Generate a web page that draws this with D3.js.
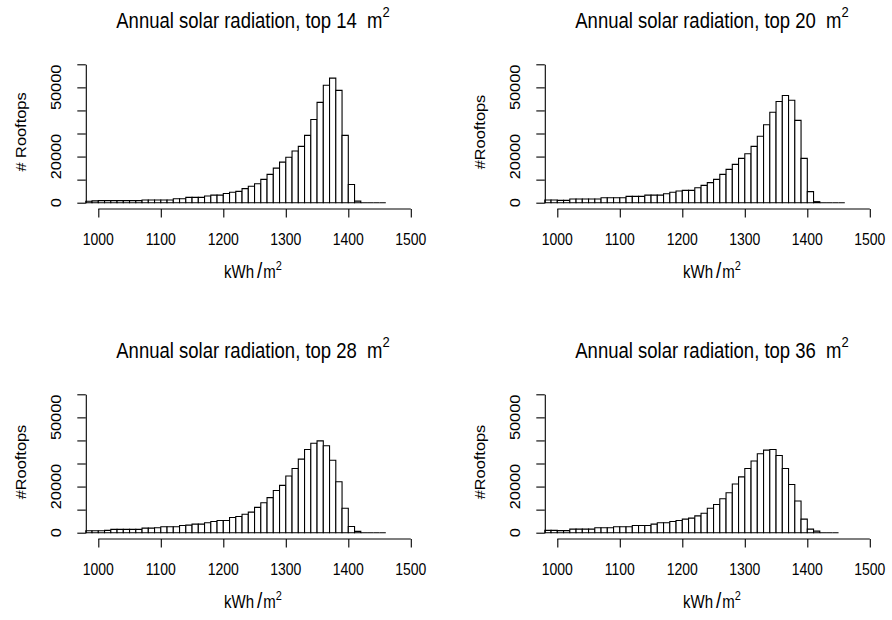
<!DOCTYPE html>
<html>
<head>
<meta charset="utf-8">
<script src="https://cdn.jsdelivr.net/npm/d3@7"></script>
<style>
  body { margin: 0; background: #fff; }
  svg text { font-family: "Liberation Sans", Arial, sans-serif; fill: #000; white-space: pre; }
</style>
</head>
<body>
<div id="chart"></div>
<script>
// histogram bins: 10 kWh/m2 wide, first bin starts at 980
var binStart = 980;
var binWidth = 10;

var top14 = [600, 800, 900, 900, 900, 900, 900, 900, 900, 1150, 1150, 1150, 1150, 1150, 1700, 1700,
  2300, 2300, 2300, 2900, 3300, 3300, 4000, 4500, 4900, 6100, 7100, 8200, 10100, 12300, 15000, 17600,
  19700, 22400, 24400, 29200, 36100, 43500, 50900, 54000, 48700, 29200, 7900, 700, 0, 0, 0, 0];
var top20 = [1150, 1150, 1000, 1000, 1600, 1600, 1600, 1600, 1600, 2150, 2150, 2150, 2150, 2750, 2750, 2750,
  3300, 3300, 3300, 3900, 4500, 5050, 5350, 5350, 6500, 7500, 8700, 10100, 12300, 14450, 16600, 19200,
  21200, 24400, 28800, 33800, 39200, 43900, 46500, 44400, 35700, 19200, 4800, 450, 0, 0, 0, 0];
var top28 = [860, 860, 860, 1000, 1430, 1430, 1430, 1430, 1430, 2000, 2000, 2150, 2580, 2580, 2580, 3150,
  3300, 3700, 3700, 4300, 4870, 5300, 5300, 6600, 7000, 8000, 8900, 11000, 13000, 15200, 18300, 20500,
  24600, 27800, 31900, 36100, 38800, 39800, 37700, 31400, 22100, 10600, 2700, 570, 0, 0, 0, 0];
var top36 = [1000, 1000, 900, 900, 1570, 1570, 1570, 1570, 2150, 2150, 2150, 2580, 2580, 2580, 3150, 3150,
  3150, 3700, 4300, 4300, 4870, 5300, 5870, 6300, 7300, 8450, 10600, 12200, 14750, 17300, 21100, 24200,
  27800, 31100, 34200, 35800, 36100, 33500, 27800, 20900, 13750, 5870, 1570, 700, 0, 0, 0];

var titles = ["Annual solar radiation, top 14  m", "Annual solar radiation, top 20  m",
  "Annual solar radiation, top 28  m", "Annual solar radiation, top 36  m"];
var yTitles = ["# Rooftops", "#Rooftops", "#Rooftops", "#Rooftops"];

var xTicks = [1000, 1100, 1200, 1300, 1400, 1500];
var yTicks = [0, 10000, 20000, 30000, 40000, 50000, 60000];
// R drops labels that would overlap, only these survive
var yTickLabels = ["0", "", "20000", "", "", "50000", ""];

var W = 892, H = 620;
var stretch = 1.17; // picture is a bit taller than wide

var svg = d3.select("#chart").append("svg")
  .attr("width", W)
  .attr("height", H);

function stretched(sel, x, y, rot) {
  return sel.attr("transform", "translate(" + x + "," + y + ") scale(1," + stretch + ")" + (rot ? " rotate(-90)" : ""));
}

function histPanel(g, counts, title, yTitle) {
  var x = d3.scaleLinear().domain([980, 1500]).range([85.8, 410.8]);
  var y = d3.scaleLinear().domain([0, 60000]).range([202.7, 64.3]);
  var cx = 253;

  var bins = counts.map(function (c, i) {
    return { x0: binStart + i * binWidth, x1: binStart + (i + 1) * binWidth, n: c };
  });

  // paths instead of rects so empty bins still show as a flat line
  g.selectAll("path.bar")
    .data(bins)
    .enter()
    .append("path")
    .attr("class", "bar")
    .attr("d", function (d) {
      return "M" + x(d.x0) + "," + y(0) + "V" + y(d.n) + "H" + x(d.x1) + "V" + y(0) + "Z";
    })
    .style("fill", "#fff")
    .style("stroke", "#000")
    .style("stroke-width", 1.1);

  // x axis: line runs from first to last tick like R
  var xa = g.append("g")
    .attr("transform", "translate(0,209)")
    .call(d3.axisBottom(x).tickValues(xTicks).tickSize(8.5).tickSizeOuter(0).tickFormat(""));
  xa.select(".domain").remove();
  xa.append("line")
    .attr("x1", x(xTicks[0])).attr("x2", x(xTicks[xTicks.length - 1]))
    .attr("y1", 0).attr("y2", 0)
    .attr("stroke", "#000");
  xa.selectAll("line").attr("stroke", "#000").attr("stroke-width", 1.1);

  var ya = g.append("g")
    .attr("transform", "translate(85.8,0)")
    .call(d3.axisLeft(y).tickValues(yTicks).tickSize(8.5).tickSizeOuter(0).tickFormat(""));
  ya.select(".domain").attr("stroke", "#000").attr("stroke-width", 1.1);
  ya.selectAll("line").attr("stroke", "#000").attr("stroke-width", 1.1);

  xTicks.forEach(function (t) {
    stretched(g.append("text"), x(t), 245)
      .attr("text-anchor", "middle")
      .style("font-size", "14px")
      .text(t);
  });

  yTicks.forEach(function (t, i) {
    if (!yTickLabels[i]) return;
    stretched(g.append("text"), 61, y(t), true)
      .attr("text-anchor", "middle")
      .style("font-size", "14px")
      .text(yTickLabels[i]);
  });

  // title with superscript
  var tt = stretched(g.append("text"), cx, 28)
    .attr("text-anchor", "middle")
    .style("font-size", "18.5px");
  tt.append("tspan").text(title);
  tt.append("tspan").attr("dy", -9).style("font-size", "13px").text("2");

  // x label kWh / m^2
  var xl = stretched(g.append("text"), cx, 278)
    .attr("text-anchor", "middle")
    .style("font-size", "15px");
  xl.append("tspan").text("kWh");
  xl.append("tspan").attr("dx", 3).style("font-size", "19px").text("/");
  xl.append("tspan").attr("dx", 1).text("m");
  xl.append("tspan").attr("dy", -7).style("font-size", "11px").text("2");

  stretched(g.append("text"), 26, 132, true)
    .attr("text-anchor", "middle")
    .style("font-size", "14px")
    .text(yTitle);
}

var allCounts = [top14, top20, top28, top36];
var offsets = [[0, 0], [459, 0], [0, 330], [459, 330]];

allCounts.forEach(function (counts, i) {
  var g = svg.append("g")
    .attr("transform", "translate(" + offsets[i][0] + "," + offsets[i][1] + ")");
  histPanel(g, counts, titles[i], yTitles[i]);
});
</script>
</body>
</html>
